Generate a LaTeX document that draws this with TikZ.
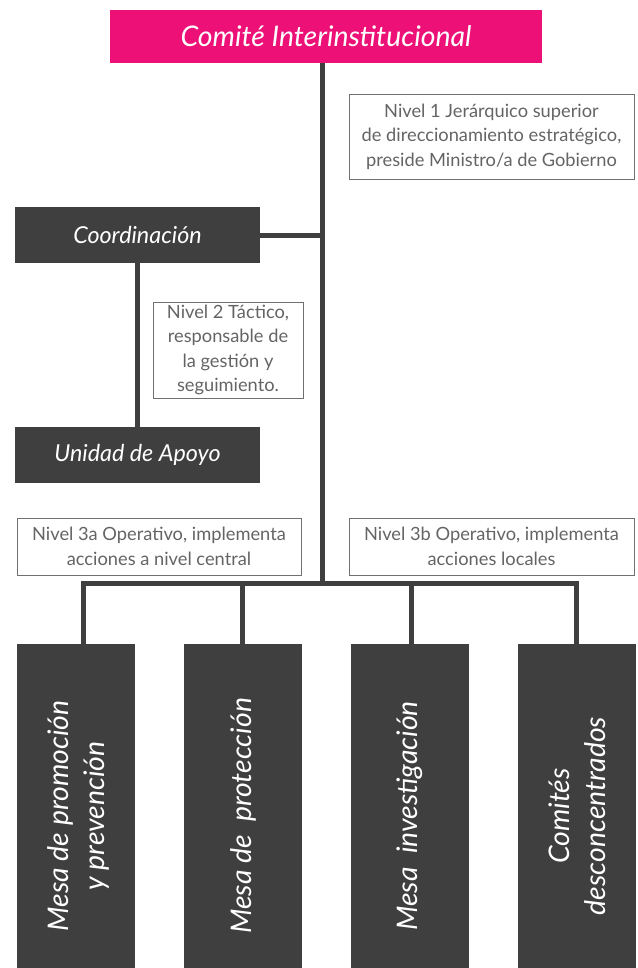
\documentclass[tikz,border=0pt]{standalone}
\usepackage{fontspec}
\setmainfont{Lato}
\usetikzlibrary{positioning}
\definecolor{pinkcolor}{RGB}{236,16,119}
\definecolor{darkcolor}{RGB}{63,63,63}
\definecolor{notecolor}{RGB}{100,100,100}
\definecolor{edgecolor}{RGB}{112,112,112}

\begin{document}
\begin{tikzpicture}[x=0.75pt, y=-0.75pt,
		base/.style = {inner sep=0pt, align=center, text=white, font=\itshape},
		titlebox/.style = {base, fill=pinkcolor, minimum width=324pt, minimum height=39.75pt, font=\fontsize{21.3}{25}\selectfont\itshape},
		darkbox/.style = {base, fill=darkcolor, minimum width=183.75pt, minimum height=42pt, font=\fontsize{17.5}{21}\selectfont\itshape},
		mesabox/.style = {base, fill=darkcolor, minimum width=88.5pt, minimum height=243pt},
		mesatext/.style = {base, rotate=90, font=\fontsize{21.3}{27}\selectfont\itshape},
		note/.style = {draw=edgecolor, line width=0.75pt, inner sep=0pt, align=center, text=notecolor, font=\fontsize{13.7}{18.3}\selectfont},
		link/.style = {draw=darkcolor, line width=3.75pt}
		]
		\useasboundingbox (0,0) rectangle (637,968);
		\node (comite) [titlebox] at (326,36.5) {Comité Interinstitucional};
		\node (nivel1) [note, minimum width=213.75pt, minimum height=63.75pt] at (491.5,136.5) {Nivel 1 Jerárquico superior\\de direccionamiento estratégico,\\preside Ministro/a de Gobierno};
		\node (coord) [darkbox] at (137.5,235) {Coordinación};
		\node (apoyo) [darkbox] at (137.5,455) {Unidad de Apoyo};
		\node (nivel2) [note, minimum width=112.5pt, minimum height=72pt] at (228,350) {Nivel 2 Táctico,\\responsable de\\la gestión y\\seguimiento.};
		\node (nivel3a) [note, minimum width=213pt, minimum height=42.75pt] at (159,546.5) {Nivel 3a Operativo, implementa\\acciones a nivel central};
		\node (nivel3b) [note, minimum width=213.75pt, minimum height=42.75pt] at (491.5,546.5) {Nivel 3b Operativo, implementa\\acciones locales};
		
		\node (m1) [mesabox] at (76,806) {};
		\node (m2) [mesabox] at (243,806) {};
		\node (m3) [mesabox] at (410,806) {};
		\node (m4) [mesabox] at (577,806) {};
		\node (t1) [mesatext] at (78,816) {Mesa de promoción\\y prevención};
		\node (t2) [mesatext] at (243,816) {Mesa de~~protección};
		\node (t3) [mesatext] at (410,816) {Mesa~~investigación};
		\node (t4) [mesatext] at (577,816) {Comités\\desconcentrados};
		
		\coordinate (bus) at (322,583);
		\coordinate (d1) at (83,583);
		\coordinate (d4) at (576,583);
		
		\draw[link] (comite.south -| bus) -- (bus);
		\draw[link] (coord.east) -- (coord.east -| bus);
		\draw[link] (coord.south) -- (apoyo.north);
		\draw[link] (d1 |- m1.north) -- (d1) -- (d4) -- (d4 |- m4.north);
		\draw[link] (242,583) -- (242,0 |- m2.north);
		\draw[link] (411,583) -- (411,0 |- m3.north);
	\end{tikzpicture}
\end{document}
